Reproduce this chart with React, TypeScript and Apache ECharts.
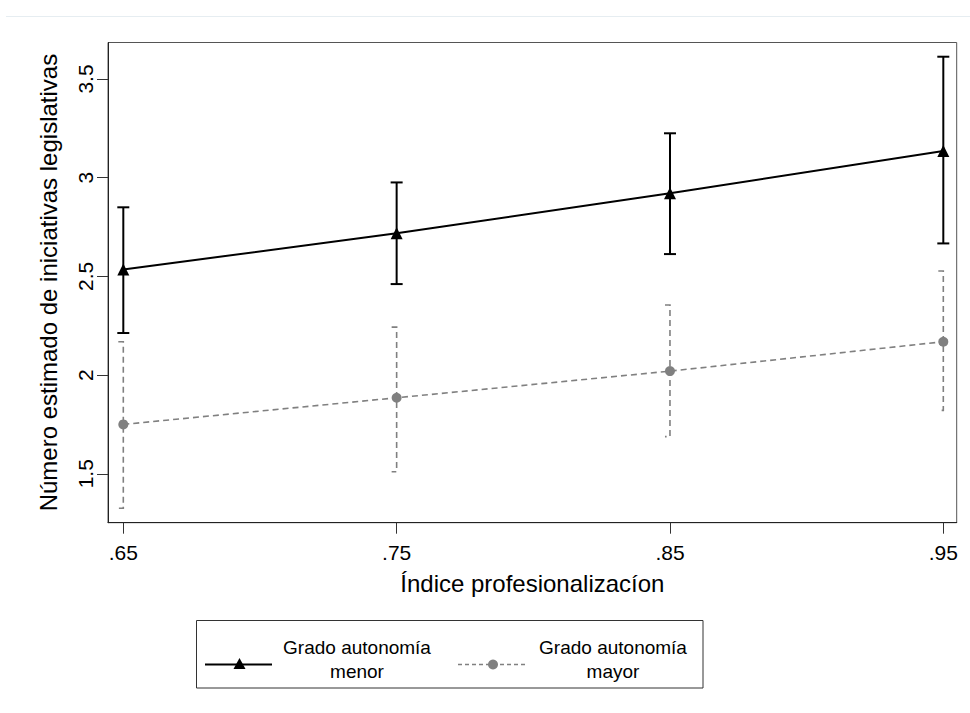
import React, { useEffect, useRef } from "react";
import * as echarts from "echarts";

const xValues = [0.65, 0.75, 0.85, 0.95];
const menorEst = [2.535, 2.718, 2.921, 3.135];
const menorLo = [2.213, 2.461, 2.613, 2.667];
const menorHi = [2.85, 2.976, 3.225, 3.613];
const mayorEst = [1.75, 1.885, 2.02, 2.169];
const mayorLo = [1.325, 1.51, 1.688, 1.821];
const mayorHi = [2.169, 2.243, 2.355, 2.527];
const xTicks = [0.65, 0.75, 0.85, 0.95];
const yTicks = [1.5, 2, 2.5, 3, 3.5];
const seriesNames = ["Grado autonomía\nmenor", "Grado autonomía\nmayor"];

const FONT = "'Liberation Sans', Arial, sans-serif";
const BLACK = "#000000";
const GRAY = "#808080";

function fmtX(v: number) {
  return String(Math.round(v * 100) / 100).replace(/^0\./, ".");
}

export default function App() {
  const ref = useRef<HTMLDivElement>(null);
  useEffect(() => {
    document.body.style.margin = "0";
    if (!ref.current) return;
    const chart = echarts.init(ref.current, null, { renderer: "svg" });

    const makeBars = (lo: number[], hi: number[]) =>
      xValues.map((x, i) => [x, lo[i], hi[i]]);

    const barRender = (color: string, dashed: boolean, width: number) =>
      (params: any, api: any) => {
        const x = api.value(0);
        const lo = api.value(1);
        const hi = api.value(2);
        const pHi = api.coord([x, hi]);
        const pLo = api.coord([x, lo]);
        const style: any = { stroke: color, lineWidth: width, fill: "none" };
        if (dashed) {
          style.lineDash = [6, 4];
          return {
            type: "polyline",
            shape: {
              points: [
                [pHi[0] - 5, pHi[1]],
                [pHi[0], pHi[1]],
                [pLo[0], pLo[1]],
                [pLo[0] - 5, pLo[1]],
              ],
            },
            style,
          };
        }
        const cw = 6;
        return {
          type: "group",
          children: [
            { type: "line", shape: { x1: pHi[0], y1: pHi[1], x2: pLo[0], y2: pLo[1] }, style },
            { type: "line", shape: { x1: pHi[0] - cw, y1: pHi[1], x2: pHi[0] + cw, y2: pHi[1] }, style },
            { type: "line", shape: { x1: pLo[0] - cw, y1: pLo[1], x2: pLo[0] + cw, y2: pLo[1] }, style },
          ],
        };
      };

    const option: any = {
      animation: false,
      backgroundColor: "#ffffff",
      grid: {
        left: 108,
        top: 42.5,
        right: 13.3,
        bottom: 190.3,
        show: true,
        borderColor: "#555555",
        borderWidth: 1,
        backgroundColor: "#ffffff",
      },
      xAxis: {
        type: "value",
        min: 0.6444,
        max: 0.9549,
        name: "Índice profesionalizacíon",
        nameLocation: "middle",
        nameGap: 49,
        nameTextStyle: { fontFamily: FONT, fontSize: 24, color: "#000" },
        axisLine: { show: true, lineStyle: { color: "#222", width: 1 } },
        axisTick: {
          show: true,
          length: 11,
          inside: false,
          customValues: xTicks,
          lineStyle: { color: "#333", width: 1 },
        },
        axisLabel: {
          customValues: xTicks,
          formatter: (v: number) => fmtX(v),
          fontFamily: FONT,
          fontSize: 21,
          color: "#000",
          margin: 19,
        },
        splitLine: { show: false },
      },
      yAxis: {
        type: "value",
        min: 1.252,
        max: 3.685,
        name: "Número estimado de iniciativas legislativas",
        nameLocation: "middle",
        nameGap: 48,
        nameTextStyle: { fontFamily: FONT, fontSize: 24, color: "#000" },
        axisLine: { show: true, lineStyle: { color: "#222", width: 1 } },
        axisTick: {
          show: true,
          length: 11,
          inside: false,
          customValues: yTicks,
          lineStyle: { color: "#333", width: 1 },
        },
        axisLabel: {
          customValues: yTicks,
          rotate: 90,
          formatter: (v: number) => String(v),
          fontFamily: FONT,
          fontSize: 21,
          color: "#000",
          margin: 12,
        },
        splitLine: { show: false },
      },
      series: [
        {
          type: "custom",
          name: "ci_menor",
          renderItem: barRender(BLACK, false, 2),
          data: makeBars(menorLo, menorHi),
          encode: { x: 0, y: [1, 2] },
          z: 2,
          silent: true,
        },
        {
          type: "custom",
          name: "ci_mayor",
          renderItem: barRender(GRAY, true, 1.6),
          data: makeBars(mayorLo, mayorHi),
          encode: { x: 0, y: [1, 2] },
          z: 2,
          silent: true,
        },
        {
          type: "line",
          name: seriesNames[0],
          data: xValues.map((x, i) => [x, menorEst[i]]),
          symbol: "triangle",
          symbolSize: 12,
          showAllSymbol: true,
          lineStyle: { color: BLACK, width: 2 },
          itemStyle: { color: BLACK },
          z: 3,
        },
        {
          type: "line",
          name: seriesNames[1],
          data: xValues.map((x, i) => [x, mayorEst[i]]),
          symbol: "circle",
          symbolSize: 10,
          showAllSymbol: true,
          lineStyle: { color: GRAY, width: 1.6, type: [6, 4] },
          itemStyle: { color: GRAY },
          z: 3,
        },
      ],
      graphic: [
        {
          type: "line",
          shape: { x1: 6, y1: 16.5, x2: 970, y2: 16.5 },
          style: { stroke: "#e6edf1", lineWidth: 1 },
          silent: true,
        },
        {
          type: "rect",
          shape: { x: 196.5, y: 620.5, width: 506.5, height: 67.5 },
          style: { fill: "#ffffff", stroke: "#333333", lineWidth: 1 },
          silent: true,
        },
        {
          type: "line",
          shape: { x1: 205, y1: 664.5, x2: 272, y2: 664.5 },
          style: { stroke: BLACK, lineWidth: 2 },
          silent: true,
        },
        {
          type: "polygon",
          shape: { points: [[239.5, 658], [245.5, 669], [233.5, 669]] },
          style: { fill: BLACK },
          silent: true,
        },
        {
          type: "text",
          style: {
            text: seriesNames[0],
            x: 357,
            y: 659,
            textAlign: "center",
            textVerticalAlign: "middle",
            fontFamily: FONT,
            fontSize: 19,
            lineHeight: 24,
            fill: "#000",
          },
          silent: true,
        },
        {
          type: "line",
          shape: { x1: 458, y1: 664.5, x2: 525, y2: 664.5 },
          style: { stroke: GRAY, lineWidth: 1.6, lineDash: [4, 3] },
          silent: true,
        },
        {
          type: "circle",
          shape: { cx: 493, cy: 664.5, r: 5 },
          style: { fill: GRAY },
          silent: true,
        },
        {
          type: "text",
          style: {
            text: seriesNames[1],
            x: 613,
            y: 659,
            textAlign: "center",
            textVerticalAlign: "middle",
            fontFamily: FONT,
            fontSize: 19,
            lineHeight: 24,
            fill: "#000",
          },
          silent: true,
        },
      ],
    };
    chart.setOption(option);
    return () => chart.dispose();
  }, []);
  return <div ref={ref} style={{ width: 970, height: 713 }} />;
}
